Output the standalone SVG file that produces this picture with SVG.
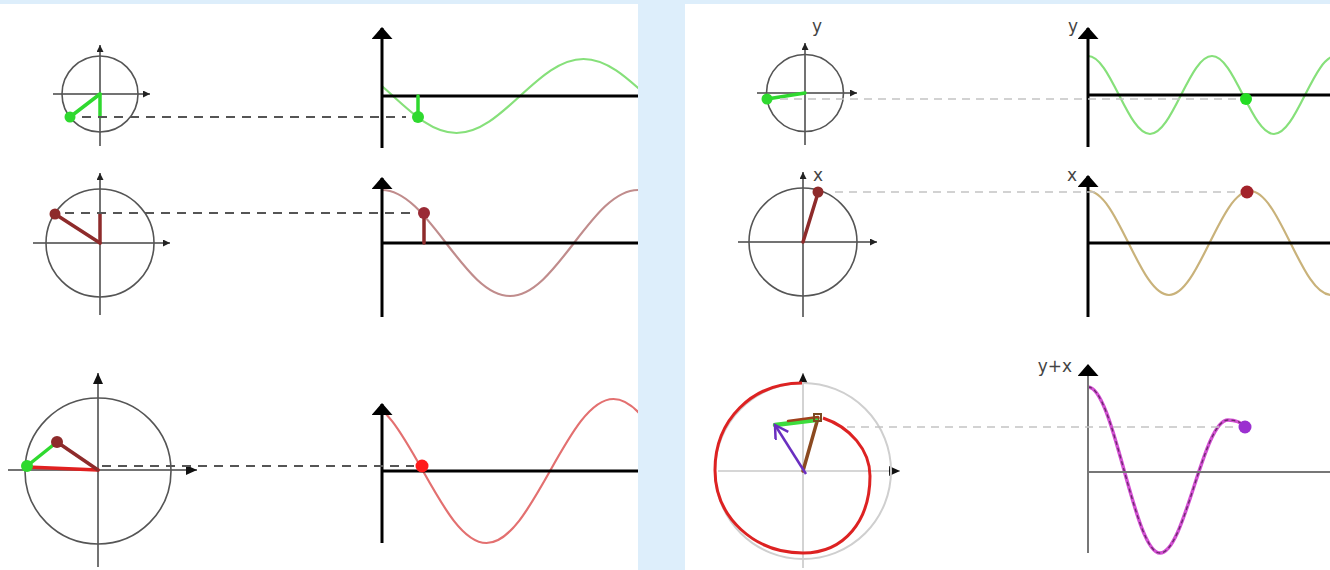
<svg xmlns="http://www.w3.org/2000/svg" width="1330" height="570" viewBox="0 0 1330 570">
  <style>
    .circ { fill: none; stroke: #555; stroke-width: 1.6; }
    .cax { stroke: #444; stroke-width: 1.5; fill: none; }
    .gax { stroke: #000; stroke-width: 3; fill: none; }
    .dashL { stroke: #555; stroke-width: 2; stroke-dasharray: 9 7; fill: none; }
    .dashR { stroke: #c4c4c4; stroke-width: 1.6; stroke-dasharray: 8 6; fill: none; }
    .lbl { font-family: "DejaVu Sans", "Liberation Sans", sans-serif; font-size: 17px; fill: #444; text-anchor: middle; }
    .green { stroke: #2fd92f; stroke-width: 3.5; stroke-linecap: round; fill: none; }
    .dred { stroke: #8e2b2b; stroke-width: 3.5; stroke-linecap: round; fill: none; }
    .red { stroke: #e02020; stroke-width: 3.5; stroke-linecap: round; fill: none; }
  </style>
  <defs>
    <marker id="sm" markerUnits="userSpaceOnUse" markerWidth="8" markerHeight="8" refX="7" refY="3.5" orient="auto">
      <path d="M0,0 L7,3.5 L0,7 z" fill="#222"/>
    </marker>
    <marker id="md" markerUnits="userSpaceOnUse" markerWidth="12" markerHeight="12" refX="11" refY="5" orient="auto">
      <path d="M0,0 L11,5 L0,10 z" fill="#111"/>
    </marker>
    <marker id="big" markerUnits="userSpaceOnUse" markerWidth="14" markerHeight="22" refX="11" refY="10.5" orient="auto">
      <path d="M0,0 L12,10.5 L0,21 z" fill="#000"/>
    </marker>
    <marker id="open" markerUnits="userSpaceOnUse" markerWidth="18" markerHeight="20" refX="15" refY="8" orient="auto">
      <path d="M2,0.5 L15,8 L2,15.5" fill="none" stroke="#6a2fc0" stroke-width="2.5" stroke-linejoin="miter"/>
    </marker>
    <clipPath id="clipL"><rect x="382" y="0" width="256" height="570"/></clipPath>
    <clipPath id="clipR"><rect x="1088" y="0" width="242" height="570"/></clipPath>
  </defs>

  <rect x="0" y="0" width="1330" height="570" fill="#ddeefb"/>
  <rect x="0" y="4" width="638" height="566" fill="#ffffff"/>
  <rect x="685" y="4" width="645" height="566" fill="#ffffff"/>

  <!-- Left row 1 -->
  <g id="circle-l1">
    <line class="cax" x1="53" y1="94" x2="150" y2="94" marker-end="url(#sm)"/>
    <line class="cax" x1="100" y1="146" x2="100" y2="45" marker-end="url(#sm)"/>
    <circle class="circ" cx="100" cy="94" r="38"/>
    <line class="green" x1="100" y1="94" x2="100" y2="117"/>
    <line class="green" x1="100" y1="94" x2="70" y2="117"/>
    <circle cx="70" cy="117" r="5.5" fill="#2fd92f"/>
  </g>
  <g id="graph-l1">
    <path clip-path="url(#clipL)" d="M329.5,59 C352.48,59 372.29,77.04 393,96 C413.71,114.96 433.52,133 456.5,133 C479.48,133 499.29,114.96 520,96 C540.71,77.04 560.52,59 583.5,59 C606.48,59 626.29,77.04 647,96" fill="none" stroke="#86e07a" stroke-width="2.2"/>
    <line class="gax" x1="382" y1="96" x2="638" y2="96"/>
    <line class="gax" x1="382" y1="148" x2="382" y2="28" marker-end="url(#big)"/>
    <line class="green" x1="418" y1="96" x2="418" y2="117"/>
    <circle cx="418" cy="117" r="6" fill="#2fd92f"/>
  </g>

  <!-- Left row 2 -->
  <g id="circle-l2">
    <line class="cax" x1="33" y1="243" x2="170" y2="243" marker-end="url(#sm)"/>
    <line class="cax" x1="100" y1="315" x2="100" y2="173" marker-end="url(#sm)"/>
    <circle class="circ" cx="100" cy="243" r="54"/>
    <line class="dred" x1="100" y1="243" x2="100" y2="214"/>
    <line class="dred" x1="100" y1="243" x2="55" y2="214"/>
    <circle cx="55" cy="214" r="5.5" fill="#8e2b2b"/>
  </g>
  <g id="graph-l2">
    <path clip-path="url(#clipL)" d="M382,190 C405.16,190 425.13,215.85 446,243 C466.87,270.15 486.84,296 510,296 C533.16,296 553.13,270.15 574,243 C594.87,215.85 614.84,190 638,190" fill="none" stroke="#c08c8c" stroke-width="2.2"/>
    <line class="gax" x1="382" y1="243" x2="638" y2="243"/>
    <line class="gax" x1="382" y1="317" x2="382" y2="178" marker-end="url(#big)"/>
    <line class="dred" x1="424" y1="243" x2="424" y2="214"/>
    <circle cx="424" cy="213" r="6" fill="#9a2a35"/>
  </g>

  <!-- Left row 3 -->
  <g id="circle-l3">
    <line class="cax" x1="8" y1="470" x2="197" y2="470" marker-end="url(#md)"/>
    <line class="cax" x1="98" y1="567" x2="98" y2="373" marker-end="url(#md)"/>
    <circle class="circ" cx="98" cy="471" r="73"/>
    <line class="red" x1="98" y1="470" x2="27" y2="467"/>
    <line class="dred" x1="98" y1="470" x2="57" y2="442"/>
    <line class="green" x1="57" y1="442" x2="27" y2="466"/>
    <circle cx="57" cy="442" r="6" fill="#8e2b2b"/>
    <circle cx="27" cy="466" r="6" fill="#2fd92f"/>
  </g>
  <g id="graph-l3">
    <path clip-path="url(#clipL)" d="M359.5,399 C382.48,399 402.29,434.11 423,471 C443.71,507.89 463.52,543 486.5,543 C509.48,543 529.29,507.89 550,471 C570.71,434.11 590.52,399 613.5,399 C636.48,399 656.29,434.11 677,471" fill="none" stroke="#e37070" stroke-width="2.2"/>
    <line class="gax" x1="382" y1="471" x2="638" y2="471"/>
    <line class="gax" x1="382" y1="543" x2="382" y2="404" marker-end="url(#big)"/>
    <circle cx="422" cy="466" r="6.5" fill="#ff1a1a"/>
  </g>

  <!-- Right row 1 -->
  <g id="circle-r1">
    <line class="cax" x1="757" y1="93" x2="857" y2="93" marker-end="url(#sm)"/>
    <line class="cax" x1="805" y1="145" x2="805" y2="43" marker-end="url(#sm)"/>
    <circle class="circ" cx="805" cy="93" r="38.5"/>
    <line class="green" x1="805" y1="93" x2="767" y2="99"/>
    <circle cx="767" cy="99" r="5.5" fill="#2fd92f"/>
    <text class="lbl" x="817" y="32">y</text>
  </g>
  <g id="graph-r1">
    <path clip-path="url(#clipR)" d="M1088,56 C1099.22,56 1108.89,75.02 1119,95 C1129.11,114.98 1138.78,134 1150,134 C1161.22,134 1170.89,114.98 1181,95 C1191.11,75.02 1200.78,56 1212,56 C1223.22,56 1232.89,75.02 1243,95 C1253.11,114.98 1262.78,134 1274,134 C1285.22,134 1294.89,114.98 1305,95 C1315.11,75.02 1324.78,56 1336,56" fill="none" stroke="#86e07a" stroke-width="2.2"/>
    <line class="gax" x1="1088" y1="95" x2="1330" y2="95"/>
    <line class="gax" x1="1088" y1="147" x2="1088" y2="28" marker-end="url(#big)"/>
    <circle cx="1246" cy="99" r="6" fill="#22dd22"/>
    <text class="lbl" x="1073" y="32">y</text>
  </g>

  <!-- Right row 2 -->
  <g id="circle-r2">
    <line class="cax" x1="738" y1="242" x2="877" y2="242" marker-end="url(#sm)"/>
    <line class="cax" x1="803" y1="317" x2="803" y2="172" marker-end="url(#sm)"/>
    <circle class="circ" cx="803" cy="242" r="54"/>
    <line class="dred" x1="803" y1="242" x2="818" y2="193"/>
    <circle cx="818" cy="192" r="5.5" fill="#8e2b2b"/>
    <text class="lbl" x="818" y="181">x</text>
  </g>
  <g id="graph-r2">
    <path clip-path="url(#clipR)" d="M1088,191 C1102.66,191 1115.29,216.36 1128.5,243 C1141.71,269.64 1154.34,295 1169,295 C1183.66,295 1196.29,269.64 1209.5,243 C1222.71,216.36 1235.34,191 1250,191 C1264.66,191 1277.29,216.36 1290.5,243 C1303.71,269.64 1316.34,295 1331,295" fill="none" stroke="#c9b27a" stroke-width="2.2"/>
    <line class="gax" x1="1088" y1="243" x2="1330" y2="243"/>
    <line class="gax" x1="1088" y1="317" x2="1088" y2="176" marker-end="url(#big)"/>
    <circle cx="1247" cy="192" r="6.5" fill="#a3222a"/>
    <text class="lbl" x="1072" y="181">x</text>
  </g>

  <!-- Right row 3 -->
  <g id="circle-r3">
    <line x1="718" y1="471" x2="900" y2="471" stroke="#c8c8c8" stroke-width="1.6" marker-end="url(#md)"/>
    <line x1="803" y1="568" x2="803" y2="373" stroke="#c8c8c8" stroke-width="1.6" marker-end="url(#md)"/>
    <circle cx="803" cy="471" r="88" fill="none" stroke="#cfcfcf" stroke-width="2"/>
    <path d="M802,383 C752,383 715,420 715,470 C715,518 755,553 803,553 C845,553 870,520 870,476 C870,450 850,427 823,418" fill="none" stroke="#dd2222" stroke-width="3"/>
    <line x1="803" y1="471" x2="818" y2="418" stroke="#8b4a20" stroke-width="3.5" stroke-linecap="round"/>
    <line x1="816" y1="420" x2="775" y2="425" stroke="#3ddc3d" stroke-width="4.5" stroke-linecap="round"/>
    <line x1="818" y1="417" x2="788" y2="421" stroke="#a0401c" stroke-width="2.5" stroke-linecap="round"/>
    <rect x="814" y="414" width="7" height="7" fill="none" stroke="#7a4a20" stroke-width="2"/>
  </g>
  <g id="graph-r3">
    <path d="M1088,387 C1114,387 1134,553 1160,553 C1185,553 1203,420 1228,420 C1236,420 1241,422 1245,427" fill="none" stroke="#d24fd2" stroke-width="3.5"/>
    <path d="M1088,387 C1114,387 1134,553 1160,553 C1185,553 1203,420 1228,420 C1236,420 1241,422 1245,427" fill="none" stroke="#6a2a6a" stroke-width="1.3" stroke-dasharray="4 3"/>
    <line x1="1088" y1="472" x2="1330" y2="472" stroke="#777" stroke-width="2"/>
    <line x1="1088" y1="553" x2="1088" y2="365" stroke="#777" stroke-width="2" marker-end="url(#big)"/>
    <circle cx="1245" cy="427" r="6.5" fill="#9b30d0"/>
    <text class="lbl" x="1055" y="372">y+x</text>
  </g>

  <g id="connectors">
    <line class="dashL" x1="82" y1="117" x2="406" y2="117"/>
    <line class="dashL" x1="65" y1="213" x2="416" y2="213"/>
    <line class="dashL" x1="102" y1="466" x2="414" y2="466"/>
    <line class="dashR" x1="780" y1="99" x2="1238" y2="99"/>
    <line class="dashR" x1="835" y1="192" x2="1240" y2="192"/>
    <line class="dashR" x1="847" y1="427" x2="1238" y2="427"/>
    <line x1="806" y1="474" x2="775" y2="425" stroke="#6a2fc0" stroke-width="2.5" marker-end="url(#open)"/>
  </g>
</svg>
